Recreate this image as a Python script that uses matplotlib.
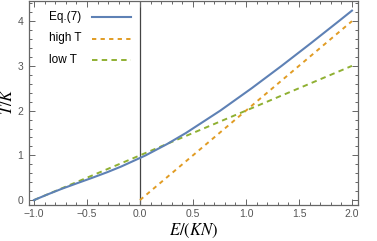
import matplotlib
matplotlib.use("Agg")
import matplotlib.pyplot as plt
from matplotlib.ticker import MultipleLocator, FuncFormatter

plt.rcParams['mathtext.fontset'] = 'stix'
plt.rcParams['font.family'] = ['Liberation Sans', 'DejaVu Sans']

# Eq.(7) curve (x = E/(KN), y = T/K)
eq7_x = [-1.0, -0.873, -0.740, -0.595, -0.448, -0.307, -0.177, 0.054, 0.254,
         0.434, 0.758, 1.054, 1.336, 1.609, 1.876, 2.0]
eq7_y = [0.0, 0.125, 0.25, 0.375, 0.5, 0.625, 0.75, 1.0, 1.25,
         1.5, 2.0, 2.5, 3.0, 3.5, 4.0, 4.235]

# high T approximation
high_x = [0.0, 2.0]
high_y = [0.0, 4.0]

# low T approximation
low_x = [-1.0, 2.0]
low_y = [0.0, 3.0]

labels = ["Eq.(7)", "high T", "low T"]
colors = ["#5E81B5", "#E19C24", "#8FB032"]
styles = [dict(lw=1.5), dict(lw=1.4, dashes=(2.2, 2.2)), dict(lw=1.4, dashes=(2.8, 2.2))]

W, H = 377, 241
fig = plt.figure(figsize=(W/100, H/100), dpi=100)
x0, x1, yb, yt = 29, 358, 205, 1
ax = fig.add_axes([x0/W, (H-yb)/H, (x1-x0)/W, (yb-yt)/H])

ax.axvline(0, color="#444444", lw=0.9, zorder=1)
ax.plot(eq7_x, eq7_y, color=colors[0], zorder=3, **styles[0])
ax.plot(high_x, high_y, color=colors[1], zorder=2, **styles[1])
ax.plot(low_x, low_y, color=colors[2], zorder=2, **styles[2])

ax.set_xlim(-1.047, 2.057)
ax.set_ylim(-0.11, 4.45)

ax.xaxis.set_major_locator(MultipleLocator(0.5))
ax.xaxis.set_minor_locator(MultipleLocator(0.1))
ax.yaxis.set_major_locator(MultipleLocator(1))
ax.yaxis.set_minor_locator(MultipleLocator(0.2))
ax.xaxis.set_major_formatter(FuncFormatter(lambda v, p: f"{v:.1f}".replace("-", "\u2212")))
ax.yaxis.set_major_formatter(FuncFormatter(lambda v, p: f"{int(round(v))}"))

frame_col = "#666666"
for s in ax.spines.values():
    s.set_color(frame_col)
    s.set_linewidth(0.9)
ax.tick_params(which='both', direction='in', top=True, right=True, color=frame_col,
               labelcolor="#555555", labelsize=7.5, width=0.7)
ax.tick_params(which='major', length=4, pad=3)
ax.tick_params(which='minor', length=2)
ax.tick_params(axis='y', pad=4)

ax.set_xlabel(r"$E/(KN)$", fontsize=12, labelpad=2)
ax.set_ylabel(r"$T/K$", fontsize=12)
ax.yaxis.set_label_coords((15 - x0) / (x1 - x0), 0.51)

# legend: text on the left, line sample on the right
def ax_x(px):
    return (px - x0) / (x1 - x0)

def ax_y(py):
    return (yb - py) / (yb - yt)

for i, (lab, col, st) in enumerate(zip(labels, colors, styles)):
    py = 17 + i * 21.5
    ax.text(ax_x(49), ax_y(py), lab, transform=ax.transAxes, fontsize=8.5,
            color="black", va="center", ha="left")
    ax.plot([ax_x(92), ax_x(131)], [ax_y(py), ax_y(py)], transform=ax.transAxes,
            color=col, clip_on=False, **st)

fig.savefig("out.png", dpi=100)
